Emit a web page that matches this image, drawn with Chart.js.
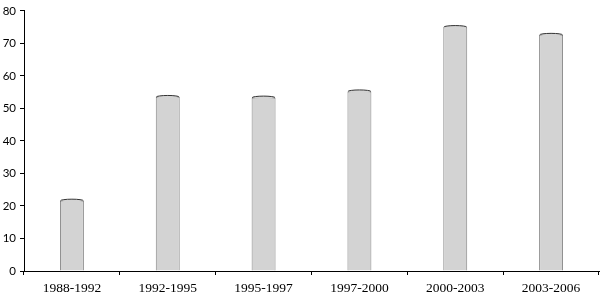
<!DOCTYPE html>
<html>
<head>
<meta charset="utf-8">
<script src="https://cdn.jsdelivr.net/npm/chart.js@4"></script>
<style>
	html, body { margin: 0; padding: 0; background: #fff; }
	#wrap { width: 601px; height: 296px; }
</style>
</head>
<body>
<div id="wrap"><canvas id="chart" width="601" height="296"></canvas></div>
<script>
let periods = ["1988-1992", "1992-1995", "1995-1997", "1997-2000", "2000-2003", "2003-2006"];
let values = [21.6, 53.5, 53.3, 55.2, 75.0, 72.6];
let yTicks = [0, 10, 20, 30, 40, 50, 60, 70, 80];

// small elliptic cap on top of each bar, like the cylinder look
let capPlugin = {
	id: 'caps',
	afterDatasetsDraw(chart) {
		let ctx = chart.ctx;
		let meta = chart.getDatasetMeta(0);
		ctx.save();
		for(let bar of meta.data){
			let half = bar.width / 2;
			ctx.beginPath();
			ctx.ellipse(bar.x, bar.y, half - 0.5, 1.6, 0, 0, 2 * Math.PI);
			ctx.fillStyle = '#d3d3d3';
			ctx.fill();
			ctx.beginPath();
			ctx.ellipse(bar.x, bar.y, half - 0.5, 1.6, 0, Math.PI, 2 * Math.PI);
			ctx.strokeStyle = '#333';
			ctx.lineWidth = 1;
			ctx.stroke();
		}
		ctx.restore();
	}
};

let ctx = document.getElementById('chart').getContext('2d');
let chart = new Chart(ctx, {
	type: 'bar',
	data: {
		labels: periods,
		datasets: [{
			data: values,
			backgroundColor: '#d3d3d3',
			borderColor: '#858585',
			borderWidth: 1,
			barPercentage: 0.25,
			categoryPercentage: 1
		}]
	},
	options: {
		responsive: false,
		animation: false,
		layout: { padding: { top: 1, right: 2, left: 0, bottom: 0 } },
		plugins: { legend: { display: false }, tooltip: { enabled: false } },
		scales: {
			x: {
				afterFit(axis) { axis.height = 25; },
				grid: { drawOnChartArea: false, drawTicks: true, tickLength: 4, color: '#000', offset: true },
				border: { color: '#000', width: 1 },
				ticks: { color: '#000', font: { family: 'Liberation Serif', size: 13.5 }, padding: 5, maxRotation: 0 }
			},
			y: {
				min: 0,
				max: 80,
				afterBuildTicks(axis) { axis.ticks = yTicks.map(v => ({ value: v })); },
				afterFit(axis) { axis.width = 24; },
				grid: { drawOnChartArea: false, drawTicks: true, tickLength: 4, color: '#000' },
				border: { color: '#000', width: 1 },
				ticks: { color: '#000', font: { family: 'Lato', size: 11.5 }, padding: 4 }
			}
		}
	},
	plugins: [capPlugin]
});
</script>
</body>
</html>
